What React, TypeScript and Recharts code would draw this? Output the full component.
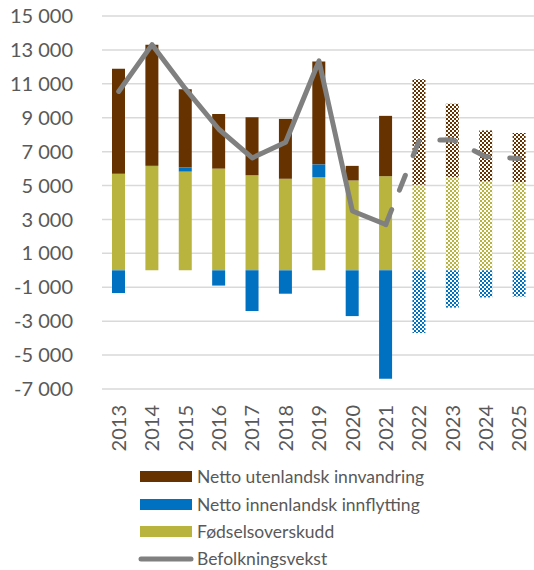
import React from "react";
import {
  ComposedChart,
  Bar,
  Line,
  Cell,
  XAxis,
  YAxis,
  CartesianGrid,
} from "recharts";

const years = ["2013", "2014", "2015", "2016", "2017", "2018", "2019", "2020", "2021", "2022", "2023", "2024", "2025"];
const fodselsoverskudd = [5700, 6150, 5820, 6000, 5600, 5400, 5500, 5300, 5550, 5050, 5500, 5250, 5200];
const innenlandsk = [-1340, 60, 240, -900, -2400, -1380, 750, -2700, -6400, -3700, -2200, -1600, -1550];
const utenlandsk = [6190, 7100, 4620, 3220, 3430, 3530, 6070, 860, 3560, 6220, 4330, 3000, 2900];
const befolkningsvekst = [10550, 13310, 10700, 8320, 6630, 7550, 12350, 3500, 2700, 7650, 7700, 6700, 6600];
const yTicks = [-7000, -5000, -3000, -1000, 1000, 3000, 5000, 7000, 9000, 11000, 13000, 15000];

const FIRST_FORECAST = 9; // 2022 and on are projections
const BROWN = "#663300";
const BLUE = "#0070C0";
const OLIVE = "#B9B43E";
const GRAY = "#808080";
const TEXT = "#595959";
const FONT = "Lato, sans-serif";

const data = years.map((year, i) => ({
  year,
  fodsel: fodselsoverskudd[i],
  innen: innenlandsk[i],
  uten: utenlandsk[i],
  vekst: i < FIRST_FORECAST ? befolkningsvekst[i] : null,
  vekstProg: i >= FIRST_FORECAST - 1 ? befolkningsvekst[i] : null,
}));

const fmt = (v: number) => {
  const s = Math.abs(v).toString();
  const body = s.length > 3 ? s.slice(0, -3) + " " + s.slice(-3) : s;
  return (v < 0 ? "-" : "") + body;
};

const YearTick = (props: any) => {
  const { x, y, payload } = props;
  return (
    <text
      x={x}
      y={y}
      transform={`rotate(-90, ${x}, ${y})`}
      textAnchor="end"
      dy="0.36em"
      fill={TEXT}
      fontSize={20}
      fontFamily={FONT}
    >
      {payload.value}
    </text>
  );
};

const legendItems = [
  { label: "Netto utenlandsk innvandring", color: BROWN, line: false },
  { label: "Netto innenlandsk innflytting", color: BLUE, line: false },
  { label: "Fødselsoverskudd", color: OLIVE, line: false },
  { label: "Befolkningsvekst", color: GRAY, line: true },
];

function Pattern({ id, color }: { id: string; color: string }) {
  return (
    <pattern id={id} width={4} height={4} patternUnits="userSpaceOnUse">
      <rect width={4} height={4} fill="#ffffff" />
      <rect x={0} y={0} width={2} height={2} fill={color} />
      <rect x={2} y={2} width={2} height={2} fill={color} />
    </pattern>
  );
}

export default function App() {
  const fill = (i: number, color: string, pat: string) =>
    i >= FIRST_FORECAST ? `url(#${pat})` : color;

  return (
    <div style={{ position: "absolute", left: 0, top: 0, width: 534, height: 570, overflow: "hidden", background: "#fff" }}>
      <ComposedChart
        width={536}
        height={460}
        data={data}
        stackOffset="sign"
        margin={{ top: 16, right: 0, bottom: 0, left: 0 }}
      >
        <defs>
          <Pattern id="pat-brown" color={BROWN} />
          <Pattern id="pat-blue" color={BLUE} />
          <Pattern id="pat-olive" color={OLIVE} />
        </defs>
        <CartesianGrid vertical={false} stroke="#d9d9d9" strokeWidth={1.5} />
        <XAxis
          dataKey="year"
          interval={0}
          axisLine={false}
          tickLine={false}
          tickSize={0}
          tickMargin={16}
          height={71}
          tick={<YearTick />}
        />
        <YAxis
          domain={[-7000, 15000]}
          ticks={yTicks}
          interval={0}
          axisLine={false}
          tickLine={false}
          tickSize={0}
          tickMargin={29}
          width={102}
          tickFormatter={fmt}
          tick={{ fill: TEXT, fontSize: 20, fontFamily: FONT }}
        />
        <Bar dataKey="fodsel" stackId="a" barSize={13} isAnimationActive={false}>
          {data.map((_, i) => (
            <Cell key={`f-${i}`} fill={fill(i, OLIVE, "pat-olive")} />
          ))}
        </Bar>
        <Bar dataKey="innen" stackId="a" barSize={13} isAnimationActive={false}>
          {data.map((_, i) => (
            <Cell key={`i-${i}`} fill={fill(i, BLUE, "pat-blue")} />
          ))}
        </Bar>
        <Bar dataKey="uten" stackId="a" barSize={13} isAnimationActive={false}>
          {data.map((_, i) => (
            <Cell key={`u-${i}`} fill={fill(i, BROWN, "pat-brown")} />
          ))}
        </Bar>
        <Line
          dataKey="vekst"
          type="linear"
          stroke={GRAY}
          strokeWidth={5}
          strokeLinejoin="round"
          strokeLinecap="round"
          dot={false}
          activeDot={false}
          connectNulls={false}
          isAnimationActive={false}
        />
        <Line
          dataKey="vekstProg"
          type="linear"
          stroke={GRAY}
          strokeWidth={5}
          strokeDasharray="16 21"
          strokeLinejoin="round"
          strokeLinecap="round"
          dot={false}
          activeDot={false}
          connectNulls={false}
          isAnimationActive={false}
        />
      </ComposedChart>
      <div style={{ position: "absolute", left: 138, top: 463, fontFamily: FONT, fontSize: 17.5, color: TEXT }}>
        {legendItems.map((it) => (
          <div key={it.label} style={{ display: "flex", alignItems: "center", height: 27.4 }}>
            {it.line ? (
              <svg width={56} height={10} style={{ marginRight: 3 }}>
                <line x1={3} y1={5} x2={53} y2={5} stroke={it.color} strokeWidth={5} strokeLinecap="round" />
              </svg>
            ) : (
              <span style={{ display: "inline-block", width: 52, height: 11, background: it.color, margin: "0 5px 0 2px" }} />
            )}
            <span>{it.label}</span>
          </div>
        ))}
      </div>
    </div>
  );
}
